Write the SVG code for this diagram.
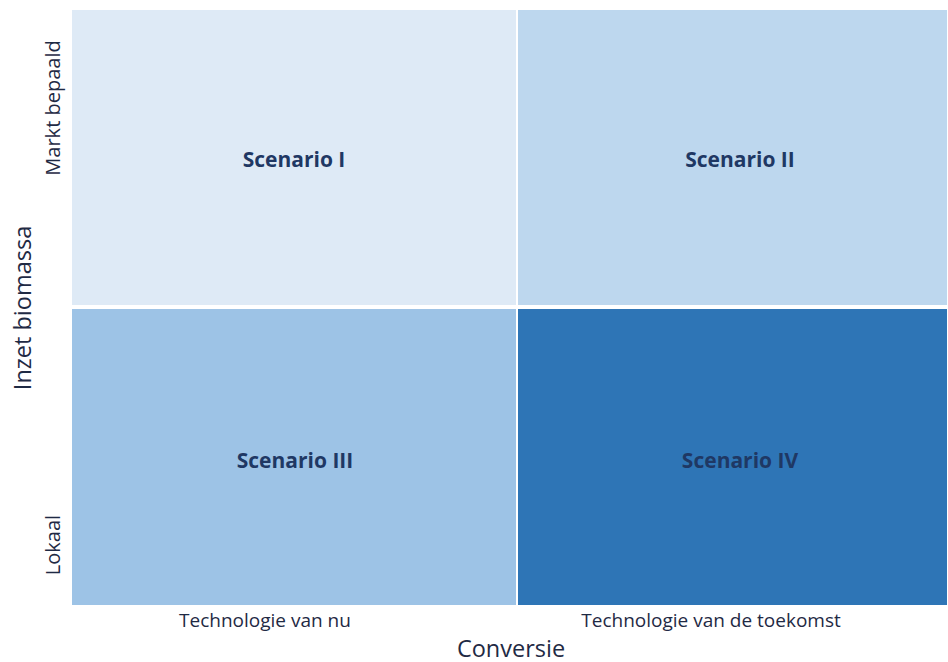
<svg xmlns="http://www.w3.org/2000/svg" width="948" height="662" viewBox="0 0 948 662">
<style>
.q{stroke:none}
.sc{font-family:"Open Sans","Liberation Sans",sans-serif;font-weight:bold;font-size:21px;fill:#1F3864;text-anchor:middle}
.ax{font-family:"Open Sans","Liberation Sans",sans-serif;font-size:19px;fill:#1F2A44;text-anchor:middle}
.vx{font-family:"Open Sans","Liberation Sans",sans-serif;font-size:20px;fill:#1F2A44;text-anchor:middle}
.big{font-family:"Open Sans","Liberation Sans",sans-serif;font-size:23.5px;fill:#1F2A44;text-anchor:middle}
</style>
<rect width="948" height="662" fill="#FFFFFF"/>
<g id="scenario1"><rect class="q" x="72" y="10" width="444" height="295" fill="#DEEAF6"/><text class="sc" x="294" y="167">Scenario I</text></g>
<g id="scenario2"><rect class="q" x="518" y="10" width="429" height="295" fill="#BDD7EE"/><text class="sc" x="740" y="167">Scenario II</text></g>
<g id="scenario3"><rect class="q" x="72" y="309" width="444" height="296" fill="#9DC3E6"/><text class="sc" x="295" y="468">Scenario III</text></g>
<g id="scenario4"><rect class="q" x="518" y="309" width="429" height="296" fill="#2E75B6"/><text class="sc" x="740" y="468">Scenario IV</text></g>
<g id="labels">
<text class="ax" x="265" y="627">Technologie van nu</text>
<text class="ax" x="711" y="627">Technologie van de toekomst</text>
<text class="big" x="511" y="657">Conversie</text>
<text class="big" transform="translate(31,308) rotate(-90)">Inzet biomassa</text>
<text class="vx" transform="translate(60,108) rotate(-90)">Markt bepaald</text>
<text class="vx" transform="translate(60,545) rotate(-90)">Lokaal</text>
</g>
<g id="connectors"/>
</svg>
